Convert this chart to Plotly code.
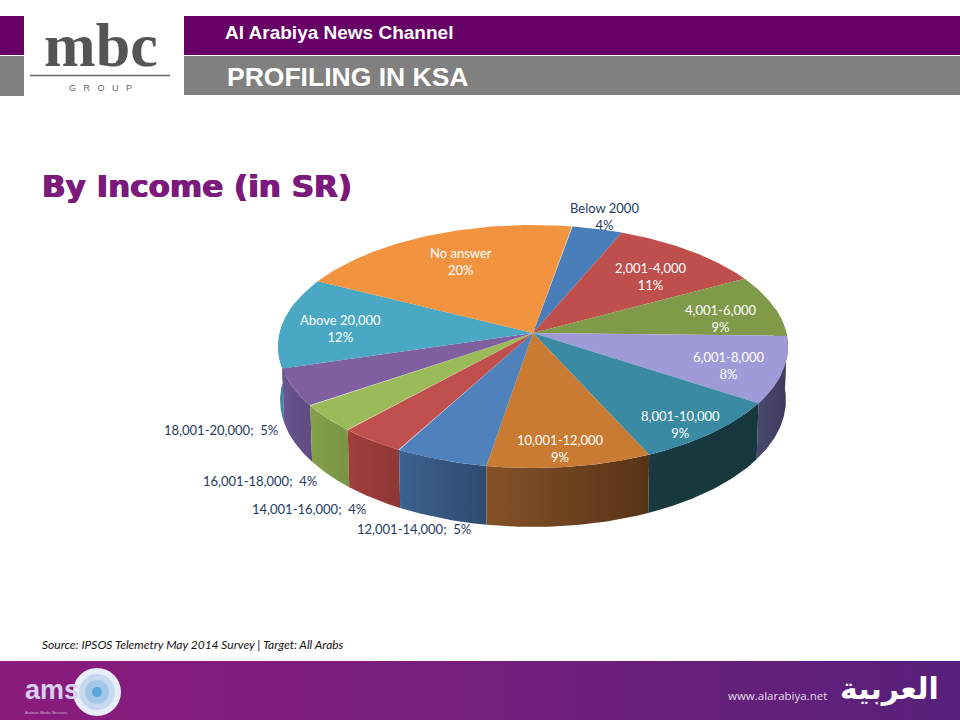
import numpy as np
import plotly.graph_objects as go

# ---------- data ----------
categories = ["Below 2000", "2,001-4,000", "4,001-6,000", "6,001-8,000", "8,001-10,000",
              "10,001-12,000", "12,001-14,000", "14,001-16,000", "16,001-18,000",
              "18,001-20,000", "Above 20,000", "No answer"]
values = [3.6, 10.8, 8.3, 8.9, 9.0, 9.4, 5.3, 3.8, 3.7, 5.0, 12.1, 20.3]
pct_labels = ["4%", "11%", "9%", "8%", "9%", "9%", "5%", "4%", "4%", "5%", "12%", "20%"]

# ---------- styles / layout ----------
top_colors = ["#4a7ebb", "#bf4f4c", "#7f9a48", "#9e9bd8", "#3b8aa3", "#c97a33",
              "#4f81bd", "#c0504d", "#9bbb59", "#7f5f9f", "#4aa8c4", "#f29340"]
wall_left = ["#3a6390", "#933d3b", "#62773a", "#4a4870", "#17393f", "#85522a",
             "#3c628f", "#a23f3d", "#84a04a", "#6a5490", "#3a8aa0", "#c07030"]
wall_right = ["#3a6390", "#933d3b", "#62773a", "#3f3b5e", "#17373f", "#573315",
              "#2f4a70", "#8d3735", "#7a9445", "#5f4a80", "#3a8aa0", "#c07030"]
START_DEG = 9.8
CX, CY, A, B, C, DEPTH = 533, 333, 253.4, 120, 0.111, 53

# label centres in slide pixels
inside_pos = {0: (604, 216), 1: (651, 276), 2: (721, 318), 3: (729, 365), 4: (680, 424),
              5: (560, 448), 10: (340, 328), 11: (461, 261)}
outside_pos = {6: (471, 529), 7: (366, 509), 8: (317, 481), 9: (278, 430)}
PURPLE = "#660066"
GRAY = "#808080"
NAVY = "#1f3a5f"


def project(deg, bottom=False):
    t = np.radians(deg)
    u, v = np.sin(t), np.cos(t)
    w = 1 + C * v
    x = A * u / w
    y = -B * v / w
    if bottom:
        x = x * 0.992
        y = y * 0.995 + DEPTH / w
    return CX + x, CY + y


fig = go.Figure()

# footer gradient band
fig.add_trace(go.Scatter(
    x=[0, 960, 960, 0, 0], y=[661, 661, 720, 720, 661], mode="lines", line=dict(width=0),
    fill="toself", hoverinfo="skip", showlegend=False,
    fillgradient=dict(type="horizontal",
                      colorscale=[[0, "#8a1b7d"], [0.5, "#741f7c"], [1, "#57207a"]])))

# slice boundaries from the values
total = sum(values)
edges = [START_DEG]
for val in values:
    edges.append(edges[-1] + val / total * 360)

# walls
wall_order = sorted(range(len(values)),
                    key=lambda i: np.cos(np.radians((edges[i] + edges[i + 1]) / 2)), reverse=True)
for i in wall_order:
    a0, a1 = max(edges[i], 78), min(edges[i + 1], 285)
    if a1 <= a0:
        continue
    ang = np.linspace(a0, a1, 60)
    xt, yt = project(ang)
    xb, yb = project(ang, bottom=True)
    fig.add_trace(go.Scatter(
        x=np.r_[xt, xb[::-1], xt[0]], y=np.r_[yt, yb[::-1], yt[0]], mode="lines",
        line=dict(width=0), fill="toself", hoverinfo="skip", showlegend=False,
        fillgradient=dict(type="horizontal",
                          colorscale=[[0, wall_left[i]], [1, wall_right[i]]])))

# top faces
for i, name in enumerate(categories):
    ang = np.linspace(edges[i], edges[i + 1], 80)
    xt, yt = project(ang)
    fig.add_trace(go.Scatter(
        x=np.r_[CX, xt, CX], y=np.r_[CY, yt, CY], mode="lines", name=name,
        line=dict(width=0), fill="toself", fillcolor=top_colors[i],
        hoverinfo="skip", showlegend=False))


def note(x, y, text, size, color, family="Lato", anchor="left", bold=False, italic=False, shadow=None):
    if bold:
        text = f"<b>{text}</b>"
    if italic:
        text = f"<i>{text}</i>"
    x = x - 2 if anchor == "left" else (x + 2 if anchor == "right" else x)
    font = dict(family=family, size=size, color=color)
    if shadow:
        font["shadow"] = shadow
    fig.add_annotation(x=x, y=y, xref="x", yref="y", text=text, showarrow=False,
                       xanchor=anchor, yanchor="middle", align=anchor,
                       font=font)


# slice labels
for i, (x, y) in inside_pos.items():
    col = NAVY if i == 0 else "white"
    note(x, y, f"{categories[i]}<br>{pct_labels[i]}", 13, col, anchor="center")
for i, (x, y) in outside_pos.items():
    note(x, y, f"{categories[i]};  {pct_labels[i]}", 13, NAVY, anchor="right")


# header & footer shapes
def rect(x0, y0, x1, y1, color):
    fig.add_shape(type="rect", x0=x0, y0=y0, x1=x1, y1=y1, xref="x", yref="y",
                  fillcolor=color, line_width=0, layer="below")


rect(0, 16, 24, 55, PURPLE)
rect(0, 56, 24, 96, GRAY)
rect(184, 16, 960, 55, PURPLE)
rect(184, 56, 960, 95, GRAY)
fig.add_shape(type="line", x0=30, x1=170, y0=75.5, y1=75.5, xref="x", yref="y",
              line=dict(color="#666666", width=1.5))

note(225, 32, "Al Arabiya News Channel", 19, "white", "Liberation Sans", bold=True)
note(227, 77, "PROFILING IN KSA", 26.5, "white", "Liberation Sans", bold=True)
note(42, 186, "By Income (in SR)", 31, "#7b1a7b", "DejaVu Sans", bold=True,
     shadow="0.7px 0 0 #7b1a7b, -0.7px 0 0 #7b1a7b")
note(42, 644, "Source: IPSOS Telemetry May 2014 Survey | Target: All Arabs", 12, "#111111", italic=True)
note(101, 45, "mbc", 62, "#555555", "Liberation Serif", anchor="center", bold=True)
note(100, 88, "G\u00a0\u00a0\u00a0R\u00a0\u00a0\u00a0O\u00a0\u00a0\u00a0U\u00a0\u00a0\u00a0P", 9, "#666666",
     "Liberation Sans", anchor="center")

# ams badge
for r, col in [(24, "#e6eef8"), (18, "#c6d9ee"), (12, "#a3c7e6"), (5, "#5aa5da")]:
    fig.add_shape(type="circle", x0=97 - r, x1=97 + r, y0=692 - r, y1=692 + r, xref="x", yref="y",
                  fillcolor=col, line_width=0)
note(25, 690, "ams", 27, "#d8d0f0", "Liberation Sans", bold=True)
note(25, 712, "Arabian Media Services", 4, "#c8b8dc", "Liberation Sans")
note(728, 695, "www.alarabiya.net", 11.5, "#e4dcec", "Open Sans")
note(889, 688, "العربية", 30, "white", "DejaVu Sans", anchor="center", bold=True)

fig.update_layout(
    width=960, height=720, margin=dict(l=0, r=0, t=0, b=0), autosize=False,
    paper_bgcolor="white", plot_bgcolor="white", showlegend=False,
    xaxis=dict(range=[0, 960], visible=False, fixedrange=True),
    yaxis=dict(range=[720, 0], visible=False, fixedrange=True),
)
fig.write_html("out.html", config={"displayModeBar": False},
               post_script="document.body.style.margin='0';")
